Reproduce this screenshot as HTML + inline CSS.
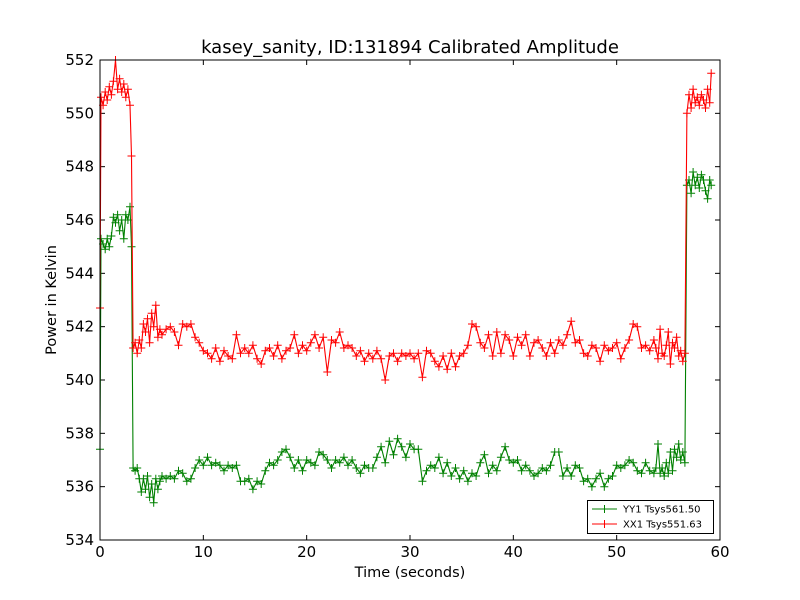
<!DOCTYPE html>
<html><head><meta charset="utf-8"><style>
body{margin:0;background:#fff;}
svg{display:block;font-family:"DejaVu Sans","Liberation Sans",sans-serif;}
</style></head><body>
<svg id="chart" width="800" height="600" xmlns="http://www.w3.org/2000/svg">
<rect width="800" height="600" fill="#fff"/>
<text x="410" y="53" font-size="18" text-anchor="middle">kasey_sanity, ID:131894 Calibrated Amplitude</text>
<text x="410" y="577" font-size="14.5" text-anchor="middle">Time (seconds)</text>
<text x="0" y="0" font-size="14.5" text-anchor="middle" transform="translate(56,300) rotate(-90)">Power in Kelvin</text>
<g id="ticks"></g>
<g id="series"></g>
<rect x="100" y="60" width="620" height="480" fill="none" stroke="#000" stroke-width="1"/>
<g>
<rect x="587.5" y="500.5" width="126" height="33" fill="#fff" stroke="#000"/>
<g>
<line x1="592" y1="509" x2="617" y2="509" stroke="#008000"/>
<line x1="604.5" y1="505" x2="604.5" y2="513" stroke="#008000"/>
<text x="623" y="512.5" font-size="10">YY1 Tsys561.50</text></g>
<g>
<line x1="592" y1="524" x2="617" y2="524" stroke="#ff0000"/>
<line x1="604.5" y1="520" x2="604.5" y2="528" stroke="#ff0000"/>
<text x="623" y="527.5" font-size="10">XX1 Tsys551.63</text></g>
</g>
</svg>
<script>
const xTicks=[0,10,20,30,40,50,60];
const yTicks=[534,536,538,540,542,544,546,548,550,552];
const time=[0,0.1,0.3,0.5,0.7,0.9,1.1,1.3,1.5,1.7,1.9,2.1,2.3,2.5,2.7,2.9,3.05,3.2,3.4,3.6,3.8,4.0,4.2,4.4,4.6,4.8,5.0,5.2,5.4,5.6,5.8,6.0,
6.4,6.8,7.2,7.6,8.0,8.4,8.8,9.2,9.6,10.0,10.4,10.8,11.2,11.6,12.0,12.4,12.8,13.2,13.6,14.0,14.4,14.8,15.2,15.6,16.0,16.4,16.8,17.2,17.6,18.0,18.4,18.8,19.2,19.6,20.0,20.4,20.8,21.2,21.6,22.0,22.4,22.8,23.2,23.6,24.0,24.4,24.8,25.2,25.6,26.0,26.4,26.8,27.2,27.6,28.0,28.4,28.8,29.2,29.6,30.0,30.4,30.8,31.2,31.6,32.0,32.4,32.8,33.2,33.6,34.0,34.4,34.8,35.2,35.6,36.0,36.4,36.8,37.2,37.6,38.0,38.4,38.8,39.2,39.6,40.0,40.4,40.8,41.2,41.6,42.0,42.4,42.8,43.2,43.6,44.0,44.4,44.8,45.2,45.6,46.0,46.4,46.8,47.2,47.6,48.0,48.4,48.8,49.2,49.6,50.0,50.4,50.8,51.2,51.6,52.0,52.4,52.8,53.2,53.6,
53.8,54.0,54.2,54.4,54.6,54.8,55.0,55.2,55.4,55.6,55.8,56.0,56.2,56.4,56.6,56.8,57.0,57.2,57.4,57.6,57.8,58.0,58.2,58.4,58.6,58.8,59.0,59.15];
const xx1=[542.7,550.6,550.3,550.8,550.5,551.0,550.7,551.2,552.0,550.9,551.3,550.8,551.1,550.6,550.9,550.3,548.4,541.2,541.4,541.0,541.5,541.2,542.1,541.8,542.3,541.4,542.5,542.0,542.8,541.6,541.9,541.7,
541.9,542.0,541.8,541.3,542.1,542.0,542.1,541.6,541.4,541.1,541.0,540.8,541.2,540.7,541.1,540.9,540.8,541.7,541.0,541.2,541.0,541.3,540.8,540.6,541.1,541.2,540.9,541.3,540.8,541.1,541.2,541.7,541.0,541.3,541.1,541.4,541.7,541.2,541.6,540.3,541.5,541.4,541.8,541.2,541.3,541.2,540.9,541.1,540.7,541.0,540.8,541.1,540.8,540.0,540.9,541.0,540.7,541.0,540.9,541.0,540.8,541.0,540.1,541.1,541.0,540.7,540.5,540.9,540.4,541.0,540.5,540.9,541.0,541.3,542.1,542.0,541.4,541.2,541.7,540.9,541.8,541.0,541.7,541.5,540.9,541.6,541.3,541.7,540.9,541.4,541.5,541.2,540.9,541.4,541.0,541.5,541.3,541.7,542.2,541.4,541.5,541.0,540.9,541.3,541.2,540.7,541.3,541.1,541.2,541.4,540.8,541.2,541.5,542.1,542.0,541.2,541.3,541.1,541.5,
541.2,540.8,541.9,541.0,540.9,541.3,541.8,540.6,541.4,541.2,541.6,540.9,541.1,540.7,541.0,550.0,550.7,550.2,550.9,550.4,550.6,550.3,550.7,550.5,550.2,550.9,550.4,551.5];
const yy1=[537.4,545.3,545.1,544.9,545.3,545.0,545.4,546.1,545.9,546.2,545.6,546.0,545.3,546.2,546.0,546.5,545.0,536.7,536.6,536.7,536.3,535.8,536.3,535.9,536.4,535.6,536.1,535.4,536.3,535.9,536.2,536.4,
536.3,536.4,536.3,536.6,536.5,536.2,536.3,536.7,537.0,536.8,537.1,536.8,536.9,536.8,536.6,536.8,536.7,536.8,536.2,536.2,536.3,535.9,536.2,536.1,536.6,536.9,536.8,537.0,537.3,537.4,537.1,536.7,537.0,536.6,537.0,536.9,536.8,537.3,537.2,537.0,536.7,537.0,536.9,537.1,536.8,537.0,536.7,536.5,536.8,536.7,536.7,537.1,537.5,536.9,537.7,537.2,537.8,537.5,537.1,537.6,537.4,537.4,536.2,536.6,536.8,536.7,537.1,536.5,536.9,536.4,536.7,536.3,536.6,536.2,536.5,536.4,536.9,537.2,536.5,536.8,536.6,537.1,537.5,537.0,536.9,537.0,536.6,536.8,536.6,536.4,536.5,536.7,536.6,536.8,537.3,537.3,536.4,536.7,536.4,536.8,536.7,536.2,536.3,536.0,536.3,536.5,536.0,536.3,536.4,536.8,536.7,536.8,537.0,536.9,536.6,536.5,536.9,536.6,536.5,
536.7,537.6,536.5,536.7,536.4,536.9,536.5,537.3,536.6,537.4,537.1,537.6,537.0,537.3,536.9,547.3,547.5,547.0,547.8,547.3,547.6,547.2,547.7,547.5,547.1,546.8,547.5,547.3];

const NS='http://www.w3.org/2000/svg';
const X0=100,X1=720,Y0=540,Y1=60;
function sx(v){return X0+(v-0)/(60-0)*(X1-X0);}
function sy(v){return Y0-(v-534)/(552-534)*(Y0-Y1);}
function mk(tag,attrs,parent){const e=document.createElementNS(NS,tag);for(const k in attrs)e.setAttribute(k,attrs[k]);parent.appendChild(e);return e;}
const tg=document.getElementById('ticks');
xTicks.forEach(v=>{
  const x=sx(v);
  const a=mk('line',{x1:x,y1:540,x2:x,y2:535,stroke:'#000'},tg);
  
  
  const b=mk('line',{x1:x,y1:60,x2:x,y2:65,stroke:'#000'},tg);
  
  
  const t=mk('text',{x:x,y:557,'font-size':15,'text-anchor':'middle'},tg);
  t.textContent=v;
  
  
});
yTicks.forEach(v=>{
  const y=sy(v);
  const a=mk('line',{x1:100,y1:y,x2:105,y2:y,stroke:'#000'},tg);
  
  
  const b=mk('line',{x1:720,y1:y,x2:715,y2:y,stroke:'#000'},tg);
  
  
  const t=mk('text',{x:94,y:y+5,'font-size':15,'text-anchor':'end'},tg);
  t.textContent=v;
  
  
});
const sg=document.getElementById('series');
function draw(vals,color,name){
  const g=mk('g',{},sg);
  
  
  const pts=vals.map((v,i)=>sx(time[i]).toFixed(1)+','+sy(v).toFixed(1)).join(' ');
  const pl=mk('polyline',{points:pts,fill:'none',stroke:color,'stroke-width':1.1},g);
  
  
  let d='';
  vals.forEach((v,i)=>{const x=sx(time[i]),y=sy(v);d+=`M${(x-4).toFixed(1)},${y.toFixed(1)}h8M${x.toFixed(1)},${(y-4).toFixed(1)}v8`;});
  const m=mk('path',{d:d,stroke:color,'stroke-width':1,fill:'none'},g);
  
  
}
draw(yy1,'#008000','series-yy1');
draw(xx1,'#ff0000','series-xx1');
</script>
</body></html>
